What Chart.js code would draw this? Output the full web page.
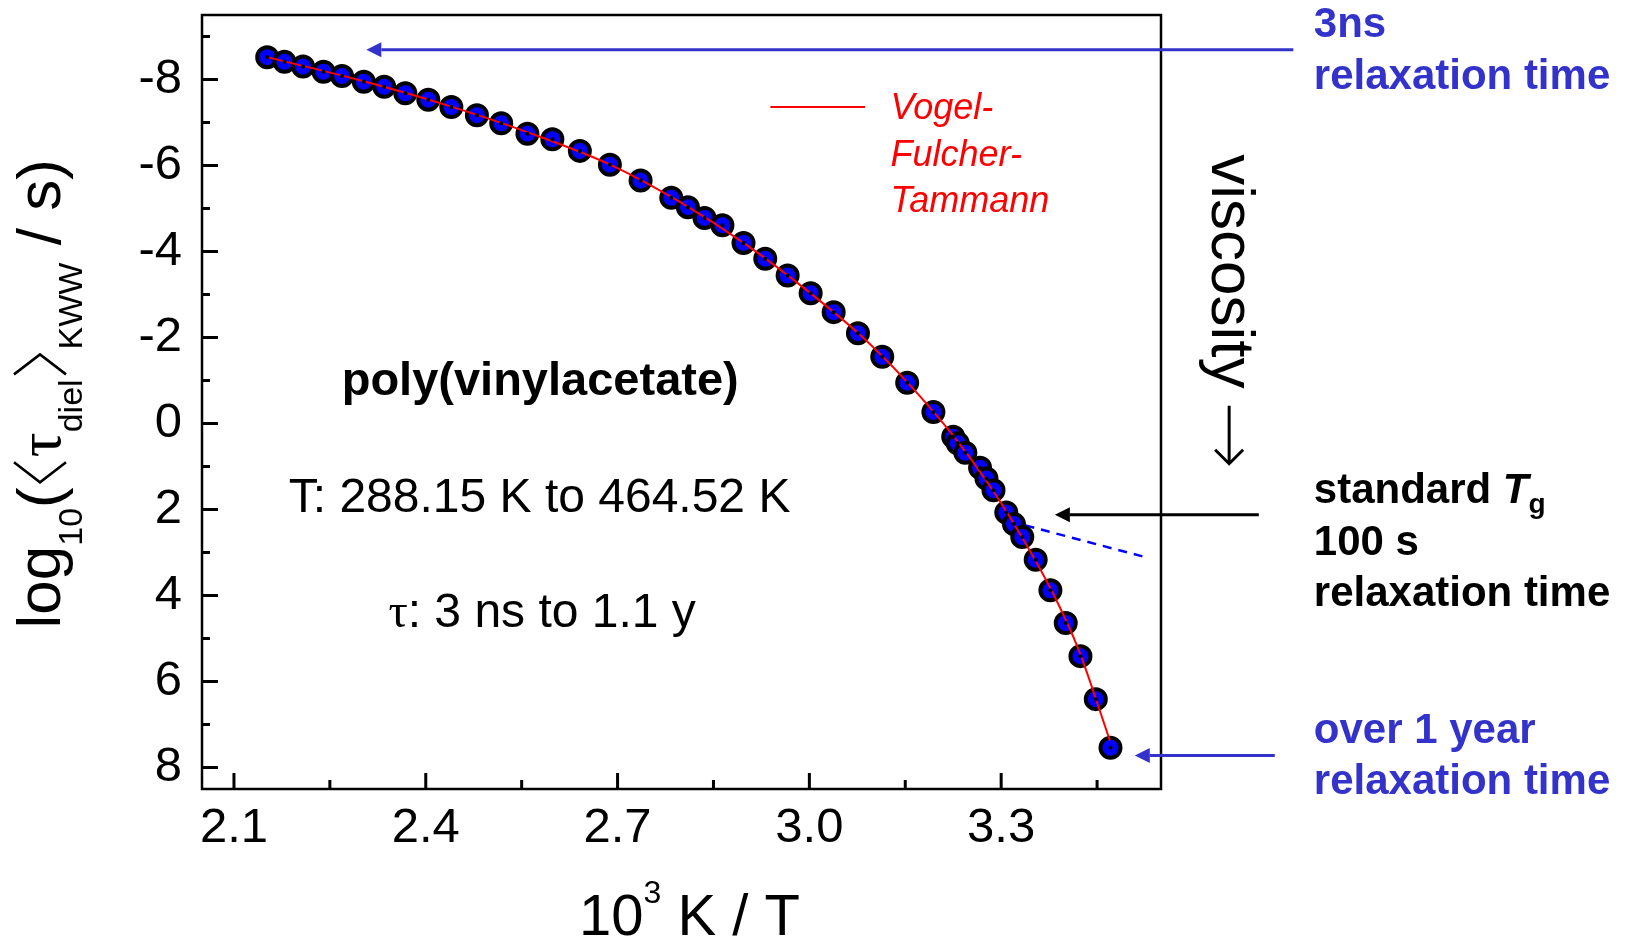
<!DOCTYPE html>
<html>
<head>
<meta charset="utf-8">
<script src="https://cdn.jsdelivr.net/npm/chart.js@4.4.1/dist/chart.umd.min.js"></script>
<style>
  html, body { margin: 0; padding: 0; background: #fff; }
  #wrap { width: 1625px; height: 941px; }
</style>
</head>
<body>
<div id="wrap"><canvas id="tauChart" width="1625" height="941"></canvas></div>
<script>
// dielectric relaxation times of PVAc, 1000/T vs log10 tau
const invT = [2.152, 2.179, 2.208, 2.240, 2.269, 2.303, 2.335, 2.368, 2.404, 2.440,
              2.480, 2.518, 2.559, 2.598, 2.641, 2.688, 2.736, 2.784, 2.810, 2.836,
              2.864, 2.897, 2.931, 2.966, 3.002, 3.038, 3.076, 3.114, 3.153, 3.194,
              3.225, 3.232, 3.244, 3.267, 3.277, 3.288, 3.308, 3.320, 3.333, 3.354,
              3.377, 3.401, 3.424, 3.448, 3.471];
const logTau = [-8.52, -8.41, -8.30, -8.18, -8.08, -7.95, -7.83, -7.68, -7.53, -7.36,
                -7.17, -6.98, -6.74, -6.61, -6.34, -6.02, -5.65, -5.25, -5.03, -4.78,
                -4.61, -4.20, -3.83, -3.44, -3.03, -2.59, -2.10, -1.55, -0.95, -0.27,
                0.31, 0.46, 0.68, 1.03, 1.28, 1.55, 2.07, 2.34, 2.64, 3.17,
                3.88, 4.64, 5.41, 6.41, 7.54];

// VFT fit curve
const vftX = [2.152, 2.30, 2.44, 2.56, 2.69, 2.80, 2.90, 3.00, 3.08, 3.15, 3.22, 3.28, 3.33, 3.38, 3.42, 3.470];
const vftY = [-8.52, -7.97, -7.37, -6.77, -6.01, -5.13, -4.17, -3.05, -2.05, -1.01, 0.19, 1.40, 2.58, 3.92, 5.22, 7.37];

// dashed slope line near Tg
const slopeX = [3.338, 3.521];
const slopeY = [2.37, 3.09];

const xMajor = [2.1, 2.4, 2.7, 3.0, 3.3];
const xMinor = [2.25, 2.55, 2.85, 3.15, 3.45];
const yMajor = [-8, -6, -4, -2, 0, 2, 4, 6, 8];
const yMinor = [-9, -7, -5, -3, -1, 1, 3, 5, 7];

const SANS = '"Liberation Sans", Arial, sans-serif';
const SERIF = '"Liberation Serif", "Times New Roman", serif';
const BLUE = '#3333cc';

const pts = (xs, ys) => xs.map((x, i) => ({ x, y: ys[i] }));

// draw a row of text pieces with their own fonts / baseline shifts;
// a piece may instead carry its own width and draw function
function drawRuns(ctx, runs, x, y, align) {
  let total = 0;
  runs.forEach(r => {
    if (!r.draw) { ctx.font = r.font; r.w = ctx.measureText(r.text).width; }
    total += r.w;
  });
  let cx = align === 'center' ? x - total / 2 : x;
  ctx.textAlign = 'left';
  ctx.textBaseline = 'alphabetic';
  runs.forEach(r => {
    if (r.draw) {
      r.draw(ctx, cx, y);
    } else {
      ctx.font = r.font;
      ctx.fillText(r.text, cx, y + (r.dy || 0));
    }
    cx += r.w;
  });
}

// tall thin angle bracket, pointing left or right
function angleBracket(dir) {
  return {
    w: 30,
    draw(ctx, x, y) {
      ctx.save();
      ctx.strokeStyle = ctx.fillStyle;
      ctx.lineWidth = 2.6;
      ctx.beginPath();
      const tipX = dir < 0 ? x + 5 : x + 25;
      const backX = dir < 0 ? x + 25 : x + 5;
      ctx.moveTo(backX, y - 46);
      ctx.lineTo(tipX, y - 20);
      ctx.lineTo(backX, y + 6);
      ctx.stroke();
      ctx.restore();
    }
  };
}

function arrow(ctx, x1, y1, x2, y2, color) {
  const ang = Math.atan2(y2 - y1, x2 - x1);
  const len = 15, half = 7.5;
  ctx.save();
  ctx.strokeStyle = color;
  ctx.fillStyle = color;
  ctx.lineWidth = 3;
  ctx.beginPath();
  ctx.moveTo(x1, y1);
  ctx.lineTo(x2 - len * Math.cos(ang), y2 - len * Math.sin(ang));
  ctx.stroke();
  ctx.beginPath();
  ctx.moveTo(x2, y2);
  ctx.lineTo(x2 - len * Math.cos(ang) - half * Math.sin(ang), y2 - len * Math.sin(ang) + half * Math.cos(ang));
  ctx.lineTo(x2 - len * Math.cos(ang) + half * Math.sin(ang), y2 - len * Math.sin(ang) - half * Math.cos(ang));
  ctx.closePath();
  ctx.fill();
  ctx.restore();
}

const decorations = {
  id: 'decorations',
  afterDraw(chart) {
    const { ctx, chartArea: a, scales: { x, y } } = chart;
    const px = v => x.getPixelForValue(v);
    const py = v => y.getPixelForValue(v);

    ctx.save();
    // inward ticks
    ctx.strokeStyle = '#000';
    ctx.lineWidth = 3;
    ctx.beginPath();
    xMajor.forEach(v => { ctx.moveTo(px(v), a.bottom); ctx.lineTo(px(v), a.bottom - 16); });
    xMinor.forEach(v => { ctx.moveTo(px(v), a.bottom); ctx.lineTo(px(v), a.bottom - 9); });
    yMajor.forEach(v => { ctx.moveTo(a.left, py(v)); ctx.lineTo(a.left + 16, py(v)); });
    yMinor.forEach(v => { ctx.moveTo(a.left, py(v)); ctx.lineTo(a.left + 8, py(v)); });
    ctx.stroke();
    // frame
    ctx.lineWidth = 2.5;
    ctx.strokeRect(a.left, a.top, a.right - a.left, a.bottom - a.top);

    // x title: 10^3 K / T
    ctx.fillStyle = '#000';
    drawRuns(ctx, [
      { text: '10', font: `58px ${SANS}` },
      { text: '3', font: `32px ${SANS}`, dy: -32 },
      { text: ' K / T', font: `58px ${SANS}` }
    ], (a.left + a.right) / 2 + 8, 935, 'center');

    // y title, rotated
    ctx.save();
    ctx.translate(60, py(-0.69));
    ctx.rotate(-Math.PI / 2);
    drawRuns(ctx, [
      { text: 'log', font: `62px ${SANS}` },
      { text: '10', font: `34px ${SANS}`, dy: 22 },
      { text: '(', font: `62px ${SANS}` },
      angleBracket(-1),
      { text: '\u03C4', font: `62px ${SERIF}` },
      { text: 'diel', font: `34px ${SANS}`, dy: 22 },
      angleBracket(1),
      { text: 'KWW', font: `34px ${SANS}`, dy: 22 },
      { text: ' / s)', font: `62px ${SANS}` }
    ], 0, 0, 'center');
    ctx.restore();

    // sample annotation
    drawRuns(ctx, [{ text: 'poly(vinylacetate)', font: `bold 47px ${SANS}` }], px(2.579), py(-0.66), 'center');
    drawRuns(ctx, [{ text: 'T: 288.15 K to 464.52 K', font: `48px ${SANS}` }], px(2.578), py(2.06), 'center');
    drawRuns(ctx, [
      { text: '\u03C4', font: `48px ${SERIF}` },
      { text: ': 3 ns to 1.1 y', font: `48px ${SANS}` }
    ], px(2.582), py(4.74), 'center');

    // VFT legend
    ctx.strokeStyle = '#ff0000';
    ctx.lineWidth = 2;
    ctx.beginPath();
    ctx.moveTo(px(2.939), py(-7.36));
    ctx.lineTo(px(3.087), py(-7.36));
    ctx.stroke();
    ctx.fillStyle = '#ff0000';
    ['Vogel-', 'Fulcher-', 'Tammann'].forEach((t, i) => {
      drawRuns(ctx, [{ text: t, font: `italic 36px ${SANS}` }], px(3.127), py(-7.07 + i * 1.07), 'left');
    });

    // viscosity direction, rotated clockwise, with a drawn arrow
    ctx.fillStyle = '#000';
    ctx.save();
    ctx.translate(px(3.630), py(-2.64));
    ctx.rotate(Math.PI / 2);
    drawRuns(ctx, [
      { text: 'viscosity ', font: `62px ${SANS}` },
      {
        w: 60,
        draw(c, x0, y0) {
          c.save();
          c.strokeStyle = '#000';
          c.lineWidth = 3;
          c.beginPath();
          c.moveTo(x0, y0 - 17);
          c.lineTo(x0 + 58, y0 - 17);
          c.moveTo(x0 + 44, y0 - 31);
          c.lineTo(x0 + 58, y0 - 17);
          c.lineTo(x0 + 44, y0 - 3);
          c.stroke();
          c.restore();
        }
      }
    ], 0, 0, 'center');
    ctx.restore();

    // arrows toward the data
    arrow(ctx, px(3.757), py(-8.69), px(2.307), py(-8.69), BLUE);
    arrow(ctx, px(3.703), py(2.12), px(3.384), py(2.12), '#000');
    arrow(ctx, px(3.728), py(7.72), px(3.509), py(7.72), BLUE);

    // right-hand notes
    const tx = px(3.789);
    const bold = `bold 42px ${SANS}`;
    ctx.fillStyle = BLUE;
    drawRuns(ctx, [{ text: '3ns', font: bold }], tx, py(-9.0), 'left');
    drawRuns(ctx, [{ text: 'relaxation time', font: bold }], tx, py(-7.79), 'left');
    ctx.fillStyle = '#000';
    drawRuns(ctx, [
      { text: 'standard ', font: bold },
      { text: 'T', font: `italic bold 42px ${SANS}` },
      { text: 'g', font: `bold 28px ${SANS}`, dy: 10 }
    ], tx, py(1.85), 'left');
    drawRuns(ctx, [{ text: '100 s', font: bold }], tx, py(3.05), 'left');
    drawRuns(ctx, [{ text: 'relaxation time', font: bold }], tx, py(4.25), 'left');
    ctx.fillStyle = BLUE;
    drawRuns(ctx, [{ text: 'over 1 year', font: bold }], tx, py(7.42), 'left');
    drawRuns(ctx, [{ text: 'relaxation time', font: bold }], tx, py(8.62), 'left');
    ctx.restore();
  }
};

// keep the plot box fixed: no extra room for edge tick labels
function noEdgePadding(s) {
  s.paddingTop = 0;
  s.paddingBottom = 0;
  s.paddingLeft = 0;
  s.paddingRight = 0;
}

new Chart(document.getElementById('tauChart'), {
  type: 'scatter',
  data: {
    datasets: [
      {
        label: 'centre',
        data: pts(invT, logTau),
        pointRadius: 2,
        pointBackgroundColor: '#000',
        pointBorderWidth: 0,
        showLine: false,
        order: 0
      },
      {
        label: 'Vogel-Fulcher-Tammann',
        data: pts(vftX, vftY),
        showLine: true,
        borderColor: '#ff0000',
        borderWidth: 2,
        pointRadius: 0,
        cubicInterpolationMode: 'monotone',
        order: 1
      },
      {
        label: 'tau',
        data: pts(invT, logTau),
        pointRadius: 10,
        pointBackgroundColor: '#0000ff',
        pointBorderColor: '#000',
        pointBorderWidth: 4,
        showLine: false,
        order: 2
      },
      {
        label: 'slope',
        data: pts(slopeX, slopeY),
        showLine: true,
        borderColor: '#0000ff',
        borderWidth: 2.5,
        borderDash: [9, 7],
        pointRadius: 0,
        order: 3
      }
    ]
  },
  options: {
    responsive: false,
    animation: false,
    devicePixelRatio: 1,
    layout: { padding: { left: 0, top: 15, right: 464, bottom: 0 } },
    plugins: { legend: { display: false }, tooltip: { enabled: false } },
    scales: {
      x: {
        type: 'linear',
        min: 2.05,
        max: 3.55,
        afterBuildTicks: s => { s.ticks = xMajor.map(v => ({ value: v })); },
        afterFit: s => { s.height = 152; noEdgePadding(s); },
        grid: { display: false, drawTicks: false },
        border: { display: false },
        ticks: {
          color: '#000',
          font: { family: SANS, size: 49 },
          padding: 10,
          maxRotation: 0,
          autoSkip: false,
          callback: v => v.toFixed(1)
        }
      },
      y: {
        type: 'linear',
        reverse: true,
        min: -9.5,
        max: 8.5,
        afterBuildTicks: s => { s.ticks = yMajor.map(v => ({ value: v })); },
        afterFit: s => { s.width = 202; noEdgePadding(s); },
        grid: { display: false, drawTicks: false },
        border: { display: false },
        ticks: {
          color: '#000',
          font: { family: SANS, size: 49 },
          padding: 20,
          autoSkip: false,
          callback: v => String(v)
        }
      }
    }
  },
  plugins: [decorations]
});
</script>
</body>
</html>
